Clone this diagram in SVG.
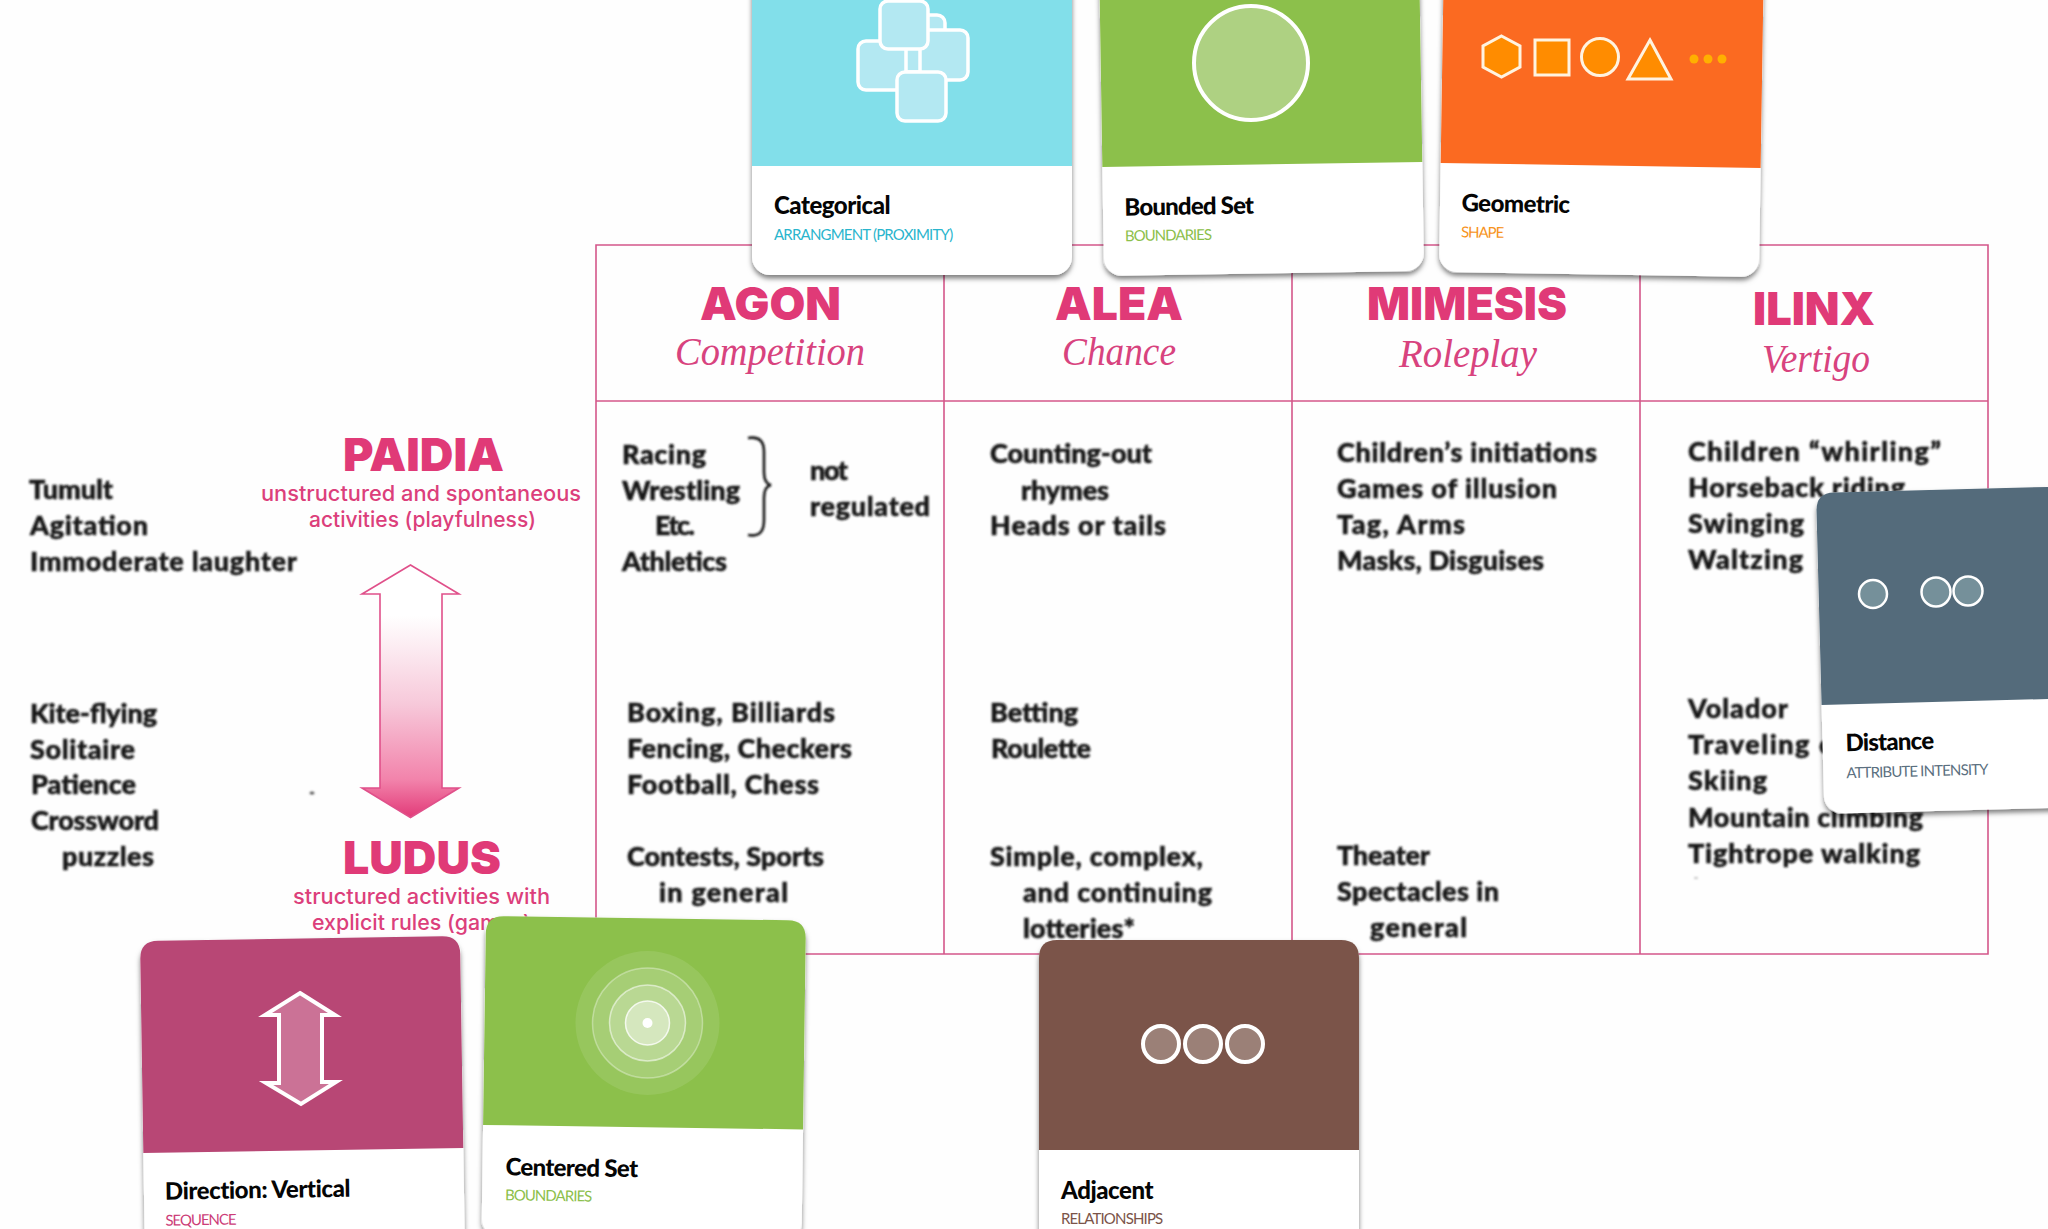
<svg xmlns="http://www.w3.org/2000/svg" width="2048" height="1229" viewBox="0 0 2048 1229">
<style>
.head{font-family:Inter,"Liberation Sans",sans-serif;font-weight:900;font-size:46px;fill:#e03a77}
.ital{font-family:"Liberation Serif",serif;font-style:italic;font-size:40px;fill:#d8437e}
.pink{font-family:Inter,"Liberation Sans",sans-serif;font-weight:500;font-size:21px;fill:#dc3f7b}
.scan text{font-family:Lato,"Liberation Sans",sans-serif;font-weight:900;font-size:27px;fill:#161616;stroke:#161616;stroke-width:.5}
.title{font-family:Lato,"Liberation Sans",sans-serif;font-weight:900;font-size:24px;fill:#050505;letter-spacing:-.6px}
.sub{font-family:Lato,"Liberation Sans",sans-serif;font-size:15px;letter-spacing:-.2px}
.grid{fill:none;stroke:#d4578a;stroke-width:1.6}
.ic{stroke:#fff;stroke-width:3.5}
</style>
<defs>
<filter id="blur" x="-5%" y="-5%" width="110%" height="110%"><feGaussianBlur stdDeviation="0.95"/></filter>
<filter id="shadow" x="-6%" y="-6%" width="112%" height="112%"><feDropShadow dx="0" dy="3.5" stdDeviation="2.5" flood-color="#000" flood-opacity=".5"/></filter>
<linearGradient id="grad" x1="0" y1="0" x2="0" y2="1"><stop offset=".2" stop-color="#fff"/><stop offset=".55" stop-color="#f7c9da"/><stop offset=".85" stop-color="#f283ab"/><stop offset="1" stop-color="#e23a78"/></linearGradient>
<rect id="body" width="320" height="321" rx="18" fill="#fff" filter="url(#shadow)"/>
<path id="hdr" d="M0,212V18Q0,0 18,0H302Q320,0 320,18V212Z"/>
</defs>
<rect width="2048" height="1229" fill="#fefefe"/>

<g id="table">
<path class="grid" d="M596,245H1988V954H596ZM944,245V954M1292,245V954M1640,245V954"/>
<path class="grid" stroke-width="2" d="M596,401H1988"/>
<text class="head" x="700" y="320" textLength="141" lengthAdjust="spacingAndGlyphs">AGON</text>
<text class="head" x="1055" y="320" textLength="128" lengthAdjust="spacingAndGlyphs">ALEA</text>
<text class="head" x="1367" y="320" textLength="200" lengthAdjust="spacingAndGlyphs">MIMESIS</text>
<text class="head" x="1753" y="325" textLength="122" lengthAdjust="spacingAndGlyphs">ILINX</text>
<text class="ital" x="675" y="365" textLength="190" lengthAdjust="spacingAndGlyphs">Competition</text>
<text class="ital" x="1062" y="365" textLength="114" lengthAdjust="spacingAndGlyphs">Chance</text>
<text class="ital" x="1399" y="367" textLength="138" lengthAdjust="spacingAndGlyphs">Roleplay</text>
<text class="ital" x="1762" y="372" textLength="108" lengthAdjust="spacingAndGlyphs">Vertigo</text>
</g>

<g id="scale-labels">
<text class="head" x="343" y="471" textLength="161" lengthAdjust="spacingAndGlyphs">PAIDIA</text>
<text class="pink" x="261" y="501" textLength="320" lengthAdjust="spacingAndGlyphs">unstructured and spontaneous</text>
<text class="pink" x="309" y="527" textLength="227" lengthAdjust="spacingAndGlyphs">activities (playfulness)</text>
<text class="head" x="343" y="874" textLength="158" lengthAdjust="spacingAndGlyphs">LUDUS</text>
<text class="pink" x="293" y="904" textLength="257" lengthAdjust="spacingAndGlyphs">structured activities with</text>
<text class="pink" x="312" y="930" textLength="219" lengthAdjust="spacingAndGlyphs">explicit rules (games)</text>
</g>

<g id="connectors">
<path d="M410.5,565L459,594H442V788H459L410.5,817.5L362,788H380V594H362Z" fill="url(#grad)" stroke="#e0508a" stroke-width="1.6"/>
</g>

<g id="scan-text" class="scan" filter="url(#blur)">
<text x="29" y="499" textLength="84">Tumult</text>
<text x="30" y="535" textLength="118">Agitation</text>
<text x="30" y="571" textLength="267">Immoderate laughter</text>
<text x="30" y="723" textLength="127">Kite-flying</text>
<text x="30" y="759" textLength="105">Solitaire</text>
<text x="31" y="794" textLength="105">Patience</text>
<text x="31" y="830" textLength="128">Crossword</text>
<text x="62" y="866" textLength="92">puzzles</text>
<text x="622" y="464" textLength="84">Racing</text>
<text x="622" y="500" textLength="118">Wrestling</text>
<text x="655" y="535" textLength="40">Etc.</text>
<text x="622" y="571" textLength="105">Athletics</text>
<text x="810" y="480" textLength="38">not</text>
<text x="810" y="516" textLength="120">regulated</text>
<text x="627" y="722" textLength="208">Boxing, Billiards</text>
<text x="627" y="758" textLength="225">Fencing, Checkers</text>
<text x="627" y="794" textLength="192">Football, Chess</text>
<text x="627" y="866" textLength="197">Contests, Sports</text>
<text x="659" y="902" textLength="129">in general</text>
<text x="990" y="463" textLength="162">Counting-out</text>
<text x="1021" y="500" textLength="88">rhymes</text>
<text x="990" y="535" textLength="176">Heads or tails</text>
<text x="990" y="722" textLength="88">Betting</text>
<text x="991" y="758" textLength="100">Roulette</text>
<text x="990" y="866" textLength="213">Simple, complex,</text>
<text x="1023" y="902" textLength="189">and continuing</text>
<text x="1023" y="938" textLength="112">lotteries*</text>
<text x="1337" y="462" textLength="260">Children’s initiations</text>
<text x="1337" y="498" textLength="220">Games of illusion</text>
<text x="1337" y="534" textLength="128">Tag, Arms</text>
<text x="1337" y="570" textLength="207">Masks, Disguises</text>
<text x="1337" y="865" textLength="93">Theater</text>
<text x="1337" y="901" textLength="162">Spectacles in</text>
<text x="1370" y="937" textLength="97">general</text>
<text x="1688" y="461" textLength="253">Children “whirling”</text>
<text x="1688" y="497" textLength="217">Horseback riding</text>
<text x="1688" y="533" textLength="116">Swinging</text>
<text x="1688" y="569" textLength="115">Waltzing</text>
<text x="1688" y="718" textLength="100">Volador</text>
<text x="1688" y="754" textLength="144">Traveling c</text>
<text x="1688" y="790" textLength="79">Skiing</text>
<text x="1688" y="827" textLength="235">Mountain climbing</text>
<text x="1688" y="863" textLength="232">Tightrope walking</text>
<path d="M748,438C760,436 764,442 764,452V472C764,480 766,484 771,485C766,486 764,491 764,498V520C764,531 760,537 748,535" fill="none" stroke="#161616" stroke-width="2.6"/>
<ellipse cx="312" cy="793" rx="2.5" ry="1.5" fill="#555"/>
<ellipse cx="1696" cy="878" rx="2" ry="1" fill="#bbb"/>
</g>

<g id="card-categorical">
<g transform="translate(752,-46)">
<use href="#body"/><use href="#hdr" fill="#82dfea"/>
<text class="title" x="22" y="260" textLength="116">Categorical</text>
<text class="sub" x="22" y="286" fill="#2ab5cd" textLength="179">ARRANGMENT (PROXIMITY)</text>
</g>
<g fill="#b3e8f2" class="ic">
<rect x="905" y="15" width="40" height="50" rx="8"/>
<rect x="914" y="30" width="54" height="50" rx="8"/>
<rect x="858" y="41" width="54" height="49" rx="8"/>
<rect x="906" y="48" width="14" height="24"/>
<rect x="880" y="1" width="48" height="48" rx="8"/>
<rect x="897" y="72" width="49" height="49" rx="8"/>
</g>
</g>

<g id="card-bounded-set">
<g transform="translate(1099,-45) rotate(-.9)">
<use href="#body"/><use href="#hdr" fill="#8cc04b"/>
<text class="title" x="21.5" y="261" textLength="129">Bounded Set</text>
<text class="sub" x="21.5" y="286.5" fill="#8cc04b" textLength="87">BOUNDARIES</text>
</g>
<circle cx="1251" cy="63" r="57" fill="#aed182" stroke="#fff" stroke-width="4"/>
</g>

<g id="card-geometric">
<g transform="translate(1444,-49) rotate(.9)">
<use href="#body"/><use href="#hdr" fill="#fb6a21"/>
<text class="title" x="21.5" y="260" textLength="108">Geometric</text>
<text class="sub" x="21.5" y="286" fill="#f7941d" textLength="43">SHAPE</text>
</g>
<g fill="#ff8c00" stroke="#fff3e0" stroke-width="3">
<path d="M1501.5,36L1520,46V67L1501.5,77L1483,67V46Z"/>
<rect x="1535" y="40" width="34" height="35"/>
<circle cx="1600" cy="57" r="18.5"/>
<path d="M1650,40L1671,79H1628Z"/>
</g>
<g fill="#ffb000"><circle cx="1694" cy="59" r="4.5"/><circle cx="1708" cy="59" r="4.5"/><circle cx="1722" cy="59" r="4.5"/></g>
</g>

<g id="card-distance">
<g transform="translate(1816,493) rotate(-1.5)">
<use href="#body"/><use href="#hdr" fill="#546b7b"/>
<rect x="300" width="60" height="212" fill="#546b7b"/>
<rect x="300" y="212" width="60" height="109" fill="#fff"/>
<text class="title" x="23" y="259" textLength="88">Distance</text>
<text class="sub" x="23" y="286" fill="#5b7080" textLength="142">ATTRIBUTE INTENSITY</text>
</g>
<g fill="#75909a" stroke="#fff" stroke-width="2.5">
<circle cx="1873" cy="594" r="14"/><circle cx="1936" cy="592" r="14.5"/><circle cx="1968" cy="591" r="14.5"/>
</g>
</g>

<g id="card-direction-vertical">
<g transform="translate(140,941) rotate(-.9)">
<use href="#body"/><use href="#hdr" fill="#b84775"/>
<text class="title" x="21" y="259" textLength="185">Direction: Vertical</text>
<text class="sub" x="21" y="285" fill="#cc3d78" textLength="71">SEQUENCE</text>
</g>
<path d="M300,993L335,1015H322V1082H336L301,1104L266,1083H279V1015H265Z" fill="#cb7296" stroke="#fff" stroke-width="4"/>
</g>

<g id="card-centered-set">
<g transform="translate(486,916) rotate(.8)">
<use href="#body"/><path d="M0,209V18Q0,0 18,0H302Q320,0 320,18V209Z" fill="#8cc04b"/>
<text class="title" x="23" y="259" textLength="132">Centered Set</text>
<text class="sub" x="23" y="284" fill="#8cc04b" textLength="87">BOUNDARIES</text>
</g>
<circle cx="647.5" cy="1023" r="72" fill="#fff" fill-opacity=".1"/>
<circle cx="647.5" cy="1023" r="55" fill="#fff" fill-opacity=".15" stroke="#fff" stroke-opacity=".35" stroke-width="1.5"/>
<circle cx="647.5" cy="1023" r="38" fill="#fff" fill-opacity=".22" stroke="#fff" stroke-opacity=".55" stroke-width="1.5"/>
<circle cx="647.5" cy="1023" r="22" fill="#fff" fill-opacity=".4" stroke="#fff" stroke-opacity=".8" stroke-width="1.5"/>
<circle cx="647.5" cy="1023" r="5" fill="#fff"/>
</g>

<g id="card-adjacent">
<g transform="translate(1039,940)">
<use href="#body"/><path d="M0,210V18Q0,0 18,0H302Q320,0 320,18V210Z" fill="#7b5449"/>
<text class="title" x="22" y="258.500" textLength="92">Adjacent</text>
<text class="sub" x="22" y="284" fill="#7b5449" textLength="102">RELATIONSHIPS</text>
</g>
<g fill="#9b8077" stroke="#fff" stroke-width="4">
<circle cx="1161" cy="1044" r="18"/><circle cx="1203" cy="1044" r="18"/><circle cx="1245" cy="1044" r="18"/>
</g>
</g>
</svg>
